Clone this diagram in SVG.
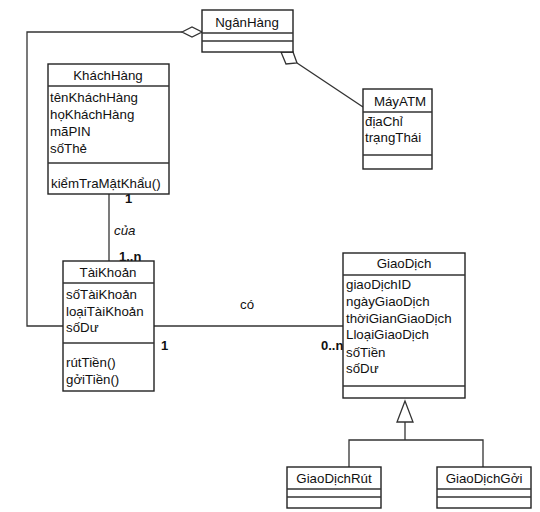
<svg xmlns="http://www.w3.org/2000/svg" width="540" height="512" viewBox="0 0 540 512">
<style>
.box{fill:#fff;stroke:#222;stroke-width:1.4}
.ln{fill:none;stroke:#333;stroke-width:1.3}
.t{font-family:"Liberation Sans",Arial,sans-serif;font-size:13.3px;fill:#111}
.c{text-anchor:middle}
.m{font-family:"Liberation Sans",Arial,sans-serif;font-size:13px;font-weight:bold;fill:#111}
.i{font-style:italic}
</style>
<rect width="540" height="512" fill="#fff"/>
<g id="connectors">
<polyline class="ln" points="182,32 27,32 27,326 63,326"/>
<polygon points="182,32 192,27 202,32 192,37" fill="#fff" stroke="#333" stroke-width="1.3"/>
<line class="ln" x1="297" y1="63" x2="363" y2="107"/>
<polygon points="281,52 293,52 297,63 286,64" fill="#fff" stroke="#333" stroke-width="1.3"/>
<line class="ln" x1="109" y1="194" x2="109" y2="261"/>
<line class="ln" x1="154" y1="326" x2="343" y2="326"/>
<polyline class="ln" points="405,422 405,440"/>
<polyline class="ln" points="349,467 349,440 483,440 483,467"/>
<polygon points="405,401 397,422 413,422" fill="#fff" stroke="#333" stroke-width="1.3"/>
<text class="m" x="125" y="203">1</text>
<text class="t i" x="114" y="235">của</text>
<text class="m" x="119" y="261">1..n</text>
<text class="t" x="240" y="309">có</text>
<text class="m" x="161" y="350">1</text>
<text class="m" x="321" y="350">0..n</text>
</g>
<g id="NganHang">
<rect class="box" x="202" y="10" width="91" height="42"/>
<line class="ln" x1="202" y1="33" x2="293" y2="33"/>
<line class="ln" x1="202" y1="41" x2="293" y2="41"/>
<text class="t c" x="247" y="27">NgânHàng</text>
</g>
<g id="MayATM">
<rect class="box" x="363" y="89" width="69" height="80"/>
<line class="ln" x1="363" y1="112" x2="432" y2="112"/>
<line class="ln" x1="363" y1="155" x2="432" y2="155"/>
<text class="t c" x="400" y="106">MáyATM</text>
<text class="t" x="365" y="126">địaChỉ</text>
<text class="t" x="365" y="142">trạngThái</text>
</g>
<g id="KhachHang">
<rect class="box" x="48" y="64" width="121" height="130"/>
<line class="ln" x1="48" y1="86" x2="169" y2="86"/>
<line class="ln" x1="48" y1="163" x2="169" y2="163"/>
<text class="t c" x="108" y="80">KháchHàng</text>
<text class="t" x="50" y="102">tênKháchHàng</text>
<text class="t" x="50" y="119">họKháchHàng</text>
<text class="t" x="50" y="136">mãPIN</text>
<text class="t" x="50" y="153">sốThẻ</text>
<text class="t" x="51" y="188">kiểmTraMậtKhẩu()</text>
</g>
<g id="TaiKhoan">
<rect class="box" x="63" y="261" width="91" height="130"/>
<line class="ln" x1="63" y1="283" x2="154" y2="283"/>
<line class="ln" x1="63" y1="343" x2="154" y2="343"/>
<text class="t c" x="108" y="277">TàiKhoản</text>
<text class="t" x="66" y="299">sốTàiKhoản</text>
<text class="t" x="66" y="316">loạiTàiKhoản</text>
<text class="t" x="66" y="332">sốDư</text>
<text class="t" x="66" y="367">rútTiền()</text>
<text class="t" x="66" y="384">gởiTiền()</text>
</g>
<g id="GiaoDich">
<rect class="box" x="343" y="253" width="122" height="145"/>
<line class="ln" x1="343" y1="275" x2="465" y2="275"/>
<line class="ln" x1="343" y1="386" x2="465" y2="386"/>
<text class="t c" x="404" y="268">GiaoDịch</text>
<text class="t" x="346" y="289">giaoDịchID</text>
<text class="t" x="346" y="306">ngàyGiaoDịch</text>
<text class="t" x="346" y="323">thờiGianGiaoDịch</text>
<text class="t" x="346" y="339">LloạiGiaoDịch</text>
<text class="t" x="346" y="357">sốTiền</text>
<text class="t" x="346" y="373">sốDư</text>
</g>
<g id="GiaoDichRut">
<rect class="box" x="287" y="467" width="94" height="41"/>
<line class="ln" x1="287" y1="489" x2="381" y2="489"/>
<line class="ln" x1="287" y1="497" x2="381" y2="497"/>
<text class="t c" x="334" y="483">GiaoDịchRút</text>
</g>
<g id="GiaoDichGoi">
<rect class="box" x="437" y="467" width="94" height="41"/>
<line class="ln" x1="437" y1="489" x2="531" y2="489"/>
<line class="ln" x1="437" y1="497" x2="531" y2="497"/>
<text class="t c" x="484" y="483">GiaoDịchGởi</text>
</g>
</svg>
